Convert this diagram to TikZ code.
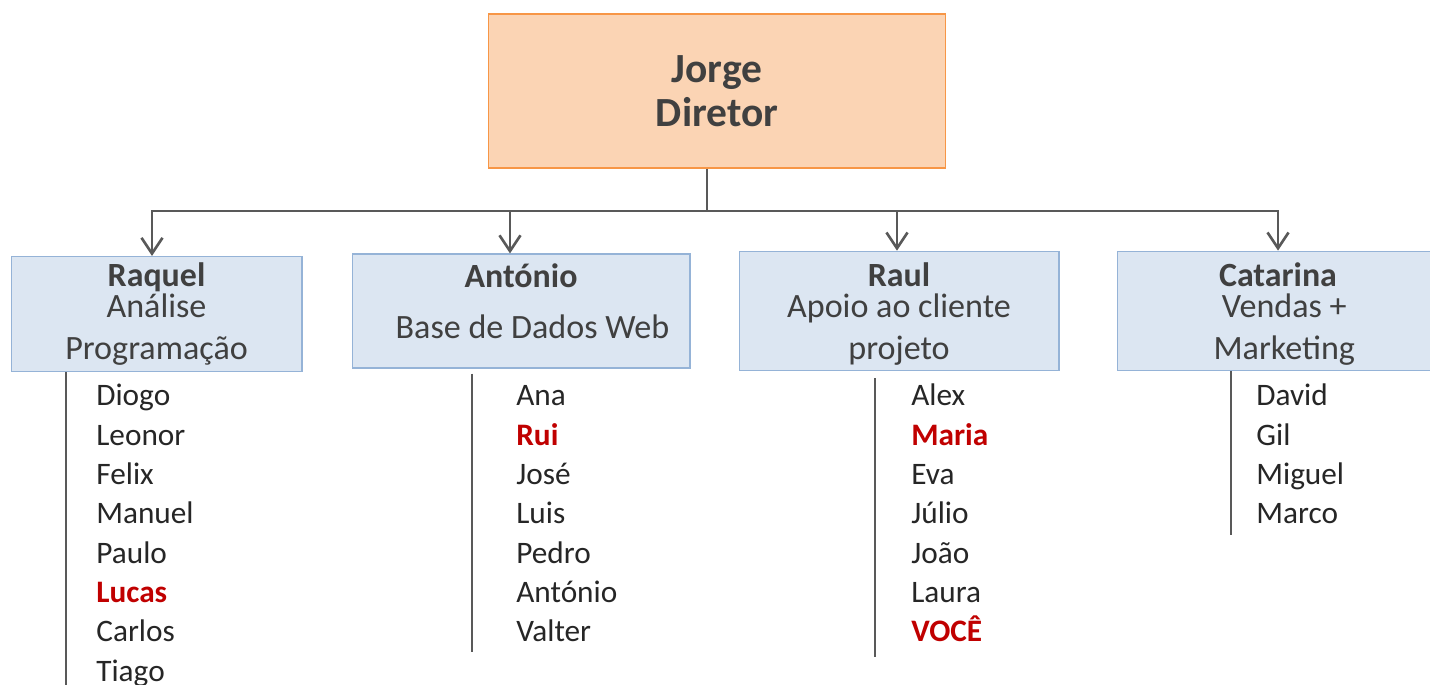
\documentclass[tikz,border=0pt]{standalone}
\usepackage{fontspec}
\setmainfont{Carlito}
\usepackage{xcolor}
\usepackage{tikz}
\usetikzlibrary{arrows,arrows.meta,calc,positioning}
\definecolor{chefefundo}{HTML}{FBD4B4}
\definecolor{chefeborda}{HTML}{F79646}
\definecolor{equipafundo}{HTML}{DCE6F2}
\definecolor{equipaborda}{HTML}{95B3D7}
\definecolor{textocaixa}{HTML}{404040}
\definecolor{ligacao}{HTML}{595959}
\definecolor{vermelho}{HTML}{C00000}
\tikzstyle{chefe} = [draw=chefeborda, fill=chefefundo, line width=0.6pt,
    rectangle, minimum width=9.16cm, minimum height=3.08cm, align=center,
    text=textocaixa, font=\fontsize{23.6}{25}\selectfont\bfseries]
\tikzstyle{equipa} = [draw=equipaborda, fill=equipafundo, line width=0.6pt,
    rectangle, minimum height=2.28cm, align=center, text=textocaixa,
    font=\fontsize{19.4}{23.8}\selectfont]
\tikzstyle{membro} = [anchor=base west, inner sep=0pt, text=black!85,
    font=\fontsize{17.8}{20}\selectfont]
\tikzstyle{destaque} = [membro, text=vermelho, font=\fontsize{17.8}{20}\selectfont\bfseries]
\tikzstyle{seta} = [draw=ligacao, line width=1.5pt, -{Straight Barb[length=9pt,width=12pt]}]
\tikzstyle{linha} = [draw=ligacao, line width=1.5pt]
\newcommand{\nomechefe}[1]{{\fontsize{19.3}{20}\selectfont\bfseries #1}}

\begin{document}
\begin{tikzpicture}[x=0.02cm, y=-0.02cm]
\useasboundingbox (0,0) rectangle (1430,685);
% diretor
\node [chefe] (jorge) at (717,91) {Jorge\\Diretor};
% equipas
\node [equipa, minimum width=5.82cm] (raquel) at (156.5,314)
    {\nomechefe{Raquel}\\[-5.7pt]Análise\\Programação};
\node [equipa, minimum width=6.76cm] (antonio) at (521,311)
    {\nomechefe{António}\hspace{0.36cm}\\[5pt]\hspace{0.46cm}Base de Dados Web\rule[-11.4pt]{0pt}{0pt}};
\node [equipa, minimum width=6.40cm] (raul) at (899,311)
    {\rule{0pt}{17pt}\nomechefe{Raul}\\[-6.5pt]Apoio ao cliente\\projeto};
\node [equipa, minimum width=6.44cm] (catarina) at (1278,311)
    {\rule{0pt}{17pt}\nomechefe{Catarina}\\[-6.5pt]\hspace{0.25cm}Vendas +\\\hspace{0.25cm}Marketing};
% ligacoes
\coordinate (tronco) at (707,211);
\draw [linha] (jorge.south -| tronco) -- (tronco);
\draw [seta] (tronco) -| ([xshift=-0.09cm]raquel.north);
\draw [seta] (tronco) -| ([xshift=-0.22cm]antonio.north);
\draw [seta] (tronco) -| ([xshift=-0.04cm]raul.north);
\draw [seta] (tronco) -| (catarina.north);
% equipa da Raquel
\coordinate (fim-raquel) at (66,690);
\draw [linha] (raquel.south -| fim-raquel) -- (fim-raquel);
\foreach \nome/\estilo [count=\i] in {Diogo/membro, Leonor/membro, Felix/membro,
    Manuel/membro, Paulo/membro, Lucas/destaque, Carlos/membro, Tiago/membro}
  \node [\estilo] (raquel-\i) at (96,406+39.3*\i-39.3) {\nome};
% equipa do Antonio
\coordinate (fim-antonio) at (472,652);
\draw [linha] ([yshift=-0.1cm]antonio.south -| fim-antonio) -- (fim-antonio);
\foreach \nome/\estilo [count=\i] in {Ana/membro, Rui/destaque, José/membro,
    Luis/membro, Pedro/membro, António/membro, Valter/membro}
  \node [\estilo] (antonio-\i) at (516,406+39.3*\i-39.3) {\nome};
% equipa do Raul
\coordinate (fim-raul) at (875,657);
\draw [linha] ([yshift=-0.14cm]raul.south -| fim-raul) -- (fim-raul);
\foreach \nome/\estilo [count=\i] in {Alex/membro, Maria/destaque, Eva/membro,
    Júlio/membro, João/membro, Laura/membro, VOCÊ/destaque}
  \node [\estilo] (raul-\i) at (911,406+39.3*\i-39.3) {\nome};
% equipa da Catarina
\coordinate (fim-catarina) at (1231,535);
\draw [linha] (catarina.south -| fim-catarina) -- (fim-catarina);
\foreach \nome/\estilo [count=\i] in {David/membro, Gil/membro, Miguel/membro,
    Marco/membro}
  \node [\estilo] (catarina-\i) at (1256,406+39.3*\i-39.3) {\nome};
\end{tikzpicture}
\end{document}
